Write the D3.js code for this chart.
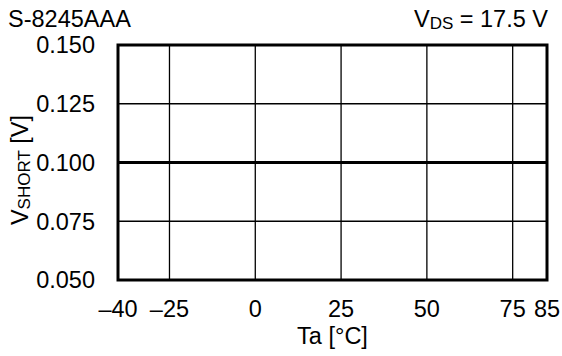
<!DOCTYPE html>
<html><head><meta charset="utf-8">
<script src="https://cdn.jsdelivr.net/npm/d3@7"></script>
<style>body{margin:0;background:#fff}svg{display:block}text{font-family:"Liberation Sans",Arial,sans-serif;fill:#000}</style>
</head><body>
<svg id="c" width="562" height="356"></svg>
<script>
const temps = [-40, 85];
const vshort = [0.100, 0.100];
const xTicks = [-40, -25, 0, 25, 50, 75, 85];
const xTickLabels = ["\u201340", "\u201325", "0", "25", "50", "75", "85"];
const yTicks = [0.050, 0.075, 0.100, 0.125, 0.150];

const FS = 23.5, SUB = 17;
const svg = d3.select("#c");
const L = 118, R = 547, T = 45, B = 280;
const x = d3.scaleLinear().domain([-40, 85]).range([L, R]);
const y = d3.scaleLinear().domain([0.050, 0.150]).range([B, T]);

// grid
svg.append("g").selectAll("line").data(xTicks.slice(1, -1)).join("line")
  .attr("x1", d => x(d)).attr("x2", d => x(d)).attr("y1", T).attr("y2", B)
  .attr("stroke", "#000").attr("stroke-width", 1.3);
svg.append("g").selectAll("line").data(yTicks.slice(1, -1)).join("line")
  .attr("y1", d => y(d)).attr("y2", d => y(d)).attr("x1", L).attr("x2", R)
  .attr("stroke", "#000").attr("stroke-width", 1.3);

// data line
svg.append("path").datum(temps.map((t, i) => [t, vshort[i]]))
  .attr("d", d3.line().x(d => x(d[0])).y(d => y(d[1])))
  .attr("fill", "none").attr("stroke", "#000").attr("stroke-width", 3);

// frame
svg.append("rect").attr("x", L).attr("y", T).attr("width", R - L).attr("height", B - T)
  .attr("fill", "none").attr("stroke", "#000").attr("stroke-width", 3);

// tick labels
svg.append("g").selectAll("text").data(xTicks).join("text")
  .attr("x", d => x(d)).attr("y", 317).attr("text-anchor", "middle")
  .attr("font-size", FS).text((d, i) => xTickLabels[i]);
svg.append("g").selectAll("text").data(yTicks).join("text")
  .attr("x", 95).attr("y", d => y(d) + 8.3).attr("text-anchor", "end")
  .attr("font-size", FS).text(d => d3.format(".3f")(d));

svg.append("text").attr("x", (L + R) / 2).attr("y", 344).attr("text-anchor", "middle")
  .attr("font-size", FS).text("Ta [\u00B0C]");

const yl = svg.append("text").attr("transform", "translate(28,170) rotate(-90)")
  .attr("text-anchor", "middle").attr("font-size", FS);
yl.append("tspan").text("V");
yl.append("tspan").attr("font-size", SUB).attr("dy", 2).text("SHORT");
yl.append("tspan").attr("dy", -2).text(" [V]");

svg.append("text").attr("x", 8).attr("y", 27).attr("font-size", FS).text("S-8245AAA");
const vt = svg.append("text").attr("x", 548).attr("y", 27).attr("text-anchor", "end").attr("font-size", FS);
vt.append("tspan").text("V");
vt.append("tspan").attr("font-size", SUB).attr("dy", 2).text("DS");
vt.append("tspan").attr("dy", -2).text(" = 17.5 V");
</script>
</body></html>
